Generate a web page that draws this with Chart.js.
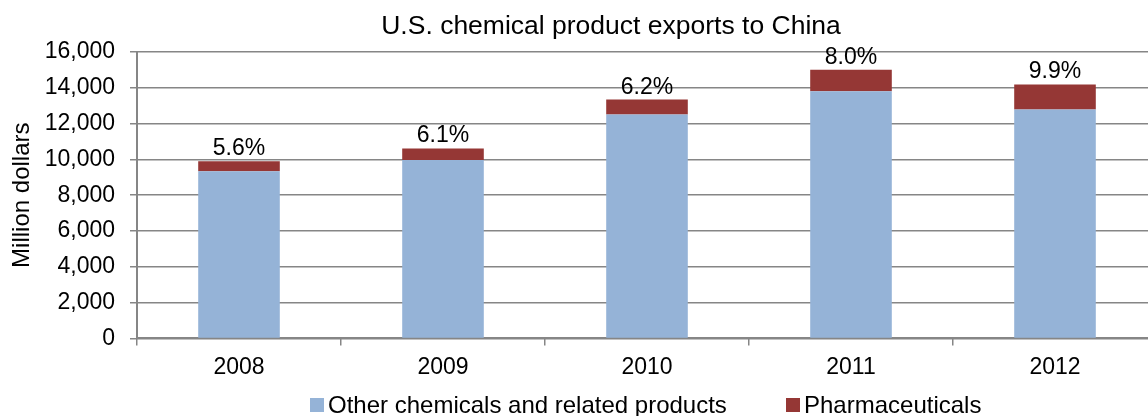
<!DOCTYPE html>
<html>
<head>
<meta charset="utf-8">
<script src="https://cdn.jsdelivr.net/npm/chart.js@4.4.1/dist/chart.umd.min.js"></script>
<style>
  html, body { margin: 0; padding: 0; background: #fff; overflow: hidden; }
  #wrap { width: 1148px; height: 416px; overflow: hidden; }
</style>
</head>
<body>
<div id="wrap"><canvas id="barChart" width="1220" height="416"></canvas></div>
<script>
// datos (millones de dólares)
var years = ['2008', '2009', '2010', '2011', '2012'];
var otherChem = [9336, 9963, 12513, 13810, 12785];
var pharma = [554, 647, 827, 1200, 1405];
var yTicks = [0, 2000, 4000, 6000, 8000, 10000, 12000, 14000, 16000];

var FONT = 'Liberation Sans, Arial, sans-serif';
var gray = '#868686';

// porcentaje de farmacéuticos sobre el total
function share(i) {
    return (pharma[i] / (otherChem[i] + pharma[i]) * 100).toFixed(1) + '%';
}

// título, etiquetas y leyenda dibujados a mano
var extras = {
    id: 'extras',
    afterDraw: function(chart) {
        var c = chart.ctx;
        var y = chart.scales.y;
        c.save();
        c.fillStyle = '#000';
        c.font = '26.5px ' + FONT;
        c.textAlign = 'center';
        c.textBaseline = 'alphabetic';
        c.fillText('U.S. chemical product exports to China', 611, 34);

        // porcentajes sobre cada barra
        c.font = '23px ' + FONT;
        var meta = chart.getDatasetMeta(0);
        years.forEach(function(yr, i) {
            var top = y.getPixelForValue(otherChem[i] + pharma[i]);
            c.fillText(share(i), meta.data[i].x, top - 6);
        });

        // leyenda
        c.font = '24px ' + FONT;
        c.textAlign = 'left';
        c.textBaseline = 'middle';
        var items = [
            { x: 310, color: '#95B3D7', text: 'Other chemicals and related products' },
            { x: 786, color: '#953735', text: 'Pharmaceuticals' }
        ];
        items.forEach(function(it) {
            c.fillStyle = it.color;
            c.fillRect(it.x, 398, 14, 14);
            c.fillStyle = '#000';
            c.fillText(it.text, it.x + 18, 406);
        });
        c.restore();
    }
};

var ctx = document.getElementById('barChart').getContext('2d');
var barChart = new Chart(ctx, {
    type: 'bar',
    data: {
        labels: years,
        datasets: [{
            label: 'Other chemicals and related products',
            data: otherChem,
            backgroundColor: '#95B3D7',
            borderWidth: 0
        }, {
            label: 'Pharmaceuticals',
            data: pharma,
            backgroundColor: '#953735',
            borderWidth: 0
        }]
    },
    plugins: [extras],
    options: {
        responsive: false,
        animation: false,
        devicePixelRatio: 1,
        layout: { padding: { top: 52, right: 63, bottom: 27, left: 0 } },
        datasets: { bar: { barPercentage: 0.4, categoryPercentage: 1 } },
        plugins: {
            legend: { display: false },
            title: { display: false },
            tooltip: { enabled: false }
        },
        scales: {
            x: {
                stacked: true,
                grid: {
                    offset: true,
                    drawOnChartArea: false,
                    color: gray,
                    lineWidth: 1.5,
                    tickLength: 7
                },
                border: { color: gray, width: 2 },
                ticks: { color: '#000', font: { family: FONT, size: 23 }, padding: 8 }
            },
            y: {
                stacked: true,
                min: 0,
                max: 16000,
                afterFit: function(s) { s.width = 137; },
                afterBuildTicks: function(s) {
                    s.ticks = yTicks.map(function(v) { return { value: v }; });
                },
                grid: { color: gray, lineWidth: 1.5, tickLength: 7 },
                border: { color: gray, width: 2 },
                ticks: {
                    color: '#000',
                    padding: 15,
                    font: { family: FONT, size: 23 },
                    callback: function(v) { return v.toLocaleString('en-US'); }
                },
                title: {
                    display: true,
                    text: 'Million dollars',
                    color: '#000',
                    font: { family: FONT, size: 24 },
                    padding: { top: 8, bottom: 0 }
                }
            }
        }
    }
});
</script>
</body>
</html>
